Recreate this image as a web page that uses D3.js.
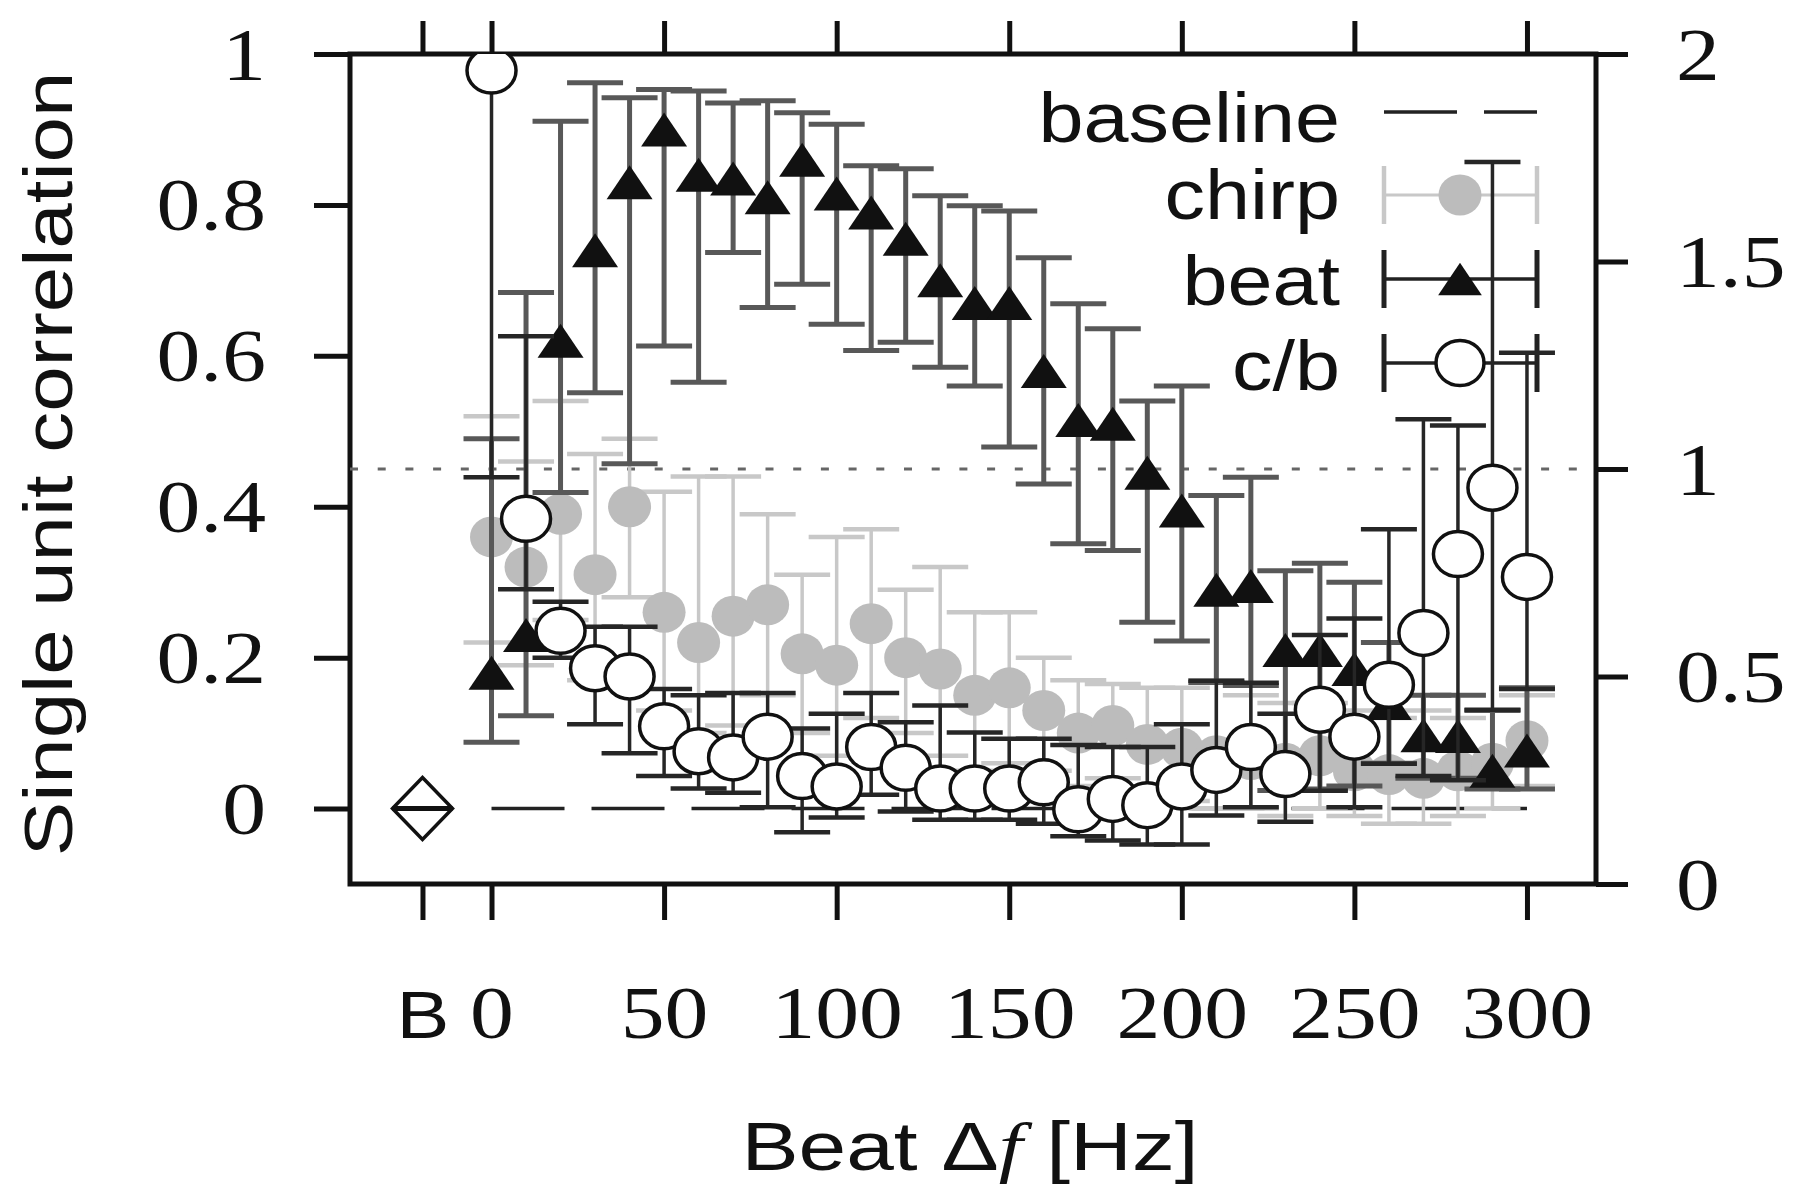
<!DOCTYPE html>
<html><head><meta charset="utf-8">
<script src="https://cdn.jsdelivr.net/npm/d3@7"></script>
<style>html,body{margin:0;padding:0;background:#fff;} svg{display:block;}</style>
</head><body>
<svg id="chart" width="1798" height="1191"></svg>
<script>
// ---------------- data ----------------
const beatDf = [0,10,20,30,40,50,60,70,80,90,100,110,120,130,140,150,160,170,180,190,200,210,220,230,240,250,260,270,280,290,300];

const chirpMean = [0.36,0.32,0.39,0.31,0.40,0.26,0.22,0.255,0.27,0.205,0.19,0.245,0.20,0.185,0.15,0.16,0.13,0.10,0.11,0.085,0.08,0.07,0.065,0.06,0.07,0.05,0.045,0.04,0.05,0.06,0.09];
const chirpHi   = [0.52,0.46,0.54,0.47,0.49,0.42,0.44,0.44,0.39,0.31,0.36,0.37,0.29,0.32,0.26,0.26,0.20,0.17,0.165,0.16,0.16,0.17,0.15,0.14,0.14,0.13,0.12,0.13,0.12,0.13,0.15];
const chirpLo   = [0.22,0.19,0.25,0.17,0.28,0.13,0.10,0.11,0.15,0.10,0.07,0.12,0.10,0.07,0.05,0.06,0.05,0.03,0.04,0.02,0.01,0.00,0.00,-0.01,0.00,-0.01,-0.02,-0.02,-0.01,0.00,0.03];

const beatMean = [0.18,0.23,0.62,0.74,0.83,0.90,0.84,0.835,0.81,0.86,0.815,0.79,0.755,0.70,0.67,0.67,0.58,0.515,0.51,0.445,0.395,0.29,0.295,0.21,0.21,0.185,0.14,0.097,0.096,0.05,0.077];
const beatHi   = [0.49,0.684,0.911,0.962,0.942,0.953,0.951,0.935,0.938,0.922,0.907,0.852,0.848,0.812,0.799,0.792,0.73,0.669,0.636,0.54,0.56,0.415,0.439,0.315,0.325,0.30,0.22,0.15,0.15,0.13,0.16];
const beatLo   = [0.088,0.123,0.419,0.551,0.457,0.613,0.565,0.737,0.664,0.695,0.642,0.607,0.618,0.585,0.56,0.479,0.43,0.351,0.342,0.247,0.222,0.167,0.163,0.024,0.026,0.03,0.06,0.04,0.04,0.026,0.026];

// chirp/beat ratio, right axis
const cbMean = [1.96,0.88,0.61,0.52,0.50,0.38,0.32,0.305,0.355,0.26,0.235,0.33,0.28,0.23,0.23,0.23,0.245,0.18,0.205,0.19,0.235,0.275,0.33,0.265,0.42,0.355,0.48,0.605,0.795,0.955,0.74];
const cbHi   = [2.3,1.32,0.68,0.62,0.62,0.47,0.455,0.46,0.46,0.375,0.41,0.46,0.39,0.43,0.365,0.35,0.35,0.335,0.33,0.33,0.385,0.49,0.485,0.41,0.60,0.64,0.855,1.12,1.105,1.74,1.28];
const cbLo   = [0.98,0.71,0.545,0.385,0.315,0.26,0.23,0.22,0.185,0.125,0.16,0.215,0.175,0.155,0.155,0.155,0.145,0.115,0.105,0.095,0.095,0.165,0.185,0.15,0.225,0.185,0.29,0.26,0.25,0.42,0.47];

const baselinePos = -20;
const baselineVal = 0;

const xTickValues = [-20,0,50,100,150,200,250,300];
const xTickLabels = ["B","0","50","100","150","200","250","300"];
const yLeftTicks  = [0,0.2,0.4,0.6,0.8,1];
const yLeftLabels = ["0","0.2","0.4","0.6","0.8","1"];
const yRightTicks  = [0,0.5,1,1.5,2];
const yRightLabels = ["0","0.5","1","1.5","2"];
const legendNames = ["baseline","chirp","beat","c/b"];
const yTitle = "Single unit correlation";

// ---------------- layout ----------------
const L = 350, R = 1596, T = 54, B = 884;
const svg = d3.select("#chart");
const x  = d3.scaleLinear().domain([-41, 320]).range([L, R]);
const yL = d3.scaleLinear().domain([-0.1, 1]).range([B, T]);
const yR = d3.scaleLinear().domain([0, 2]).range([B, T]);

const SERIF = "'Liberation Serif','Times New Roman',serif";
const SANS  = "'Liberation Sans',Arial,Helvetica,sans-serif";
const INK = "#111";

svg.append("defs").append("clipPath").attr("id","plotclip")
  .append("rect").attr("x",L).attr("y",T).attr("width",R-L).attr("height",B-T);

function triPath(cx,cy,s){
  const w=23*s, h=17*s;
  return `M${cx},${cy-h}L${cx+w},${cy+h}L${cx-w},${cy+h}Z`;
}

// ---------------- axes ----------------
function styleAxis(g){
  g.select(".domain").remove();
  g.selectAll(".tick line").attr("stroke",INK).attr("stroke-width",5);
}
const gL = svg.append("g").attr("transform",`translate(${L},0)`)
  .call(d3.axisLeft(yL).tickValues(yLeftTicks).tickSize(36).tickFormat((d,i)=>yLeftLabels[i]));
styleAxis(gL);
gL.selectAll("text").attr("x",null).attr("dy",null)
  .attr("transform","translate(-84,25) scale(1.2,1)")
  .style("font-family",SERIF).style("font-size","73px").attr("fill",INK);

const gR = svg.append("g").attr("transform",`translate(${R},0)`)
  .call(d3.axisRight(yR).tickValues(yRightTicks).tickSize(32).tickFormat((d,i)=>yRightLabels[i]));
styleAxis(gR);
gR.selectAll("text").attr("x",null).attr("dy",null)
  .attr("transform","translate(80,25) scale(1.2,1)")
  .style("font-family",SERIF).style("font-size","73px").attr("fill",INK);

const gB = svg.append("g").attr("transform",`translate(0,${B})`)
  .call(d3.axisBottom(x).tickValues(xTickValues).tickSize(36).tickFormat((d,i)=>xTickLabels[i]));
styleAxis(gB);
gB.selectAll("text").attr("y",null).attr("dy",null)
  .attr("transform","translate(0,154) scale(1.2,1)")
  .style("font-family",(d)=> d===baselinePos ? SANS : SERIF)
  .style("font-size",(d)=> d===baselinePos ? "66px" : "73px").attr("fill",INK);

const gT = svg.append("g").attr("transform",`translate(0,${T})`)
  .call(d3.axisTop(x).tickValues(xTickValues).tickSize(33).tickFormat(""));
styleAxis(gT);

// frame
svg.append("rect").attr("x",L).attr("y",T).attr("width",R-L).attr("height",B-T)
  .attr("fill","none").attr("stroke",INK).attr("stroke-width",5);

// axis titles
svg.append("text").attr("transform",`translate(72,${(T+B)/2 - 5}) rotate(-90) scale(1.2,1)`)
  .attr("text-anchor","middle").style("font-family",SANS).style("font-size","68px").attr("fill",INK)
  .text(yTitle);

const xt = svg.append("text").attr("transform",`translate(970,1170) scale(1.26,1)`)
  .attr("text-anchor","middle").style("font-family",SANS).style("font-size","68px").attr("fill",INK);
xt.append("tspan").text("Beat ");
xt.append("tspan").text("Δ");
xt.append("tspan").style("font-family",SERIF).style("font-style","italic").text("f");
xt.append("tspan").text(" [Hz]");

// ---------------- reference lines ----------------
svg.append("line").attr("x1",L).attr("x2",R).attr("y1",yR(1)).attr("y2",yR(1))
  .attr("stroke","#666").attr("stroke-width",3).attr("stroke-dasharray","8,19.7");

svg.append("line").attr("x1",x(beatDf[0])).attr("x2",x(beatDf[beatDf.length-1]))
  .attr("y1",yL(baselineVal)).attr("y2",yL(baselineVal))
  .attr("stroke","#222").attr("stroke-width",3.5).attr("stroke-dasharray","73,27");

// baseline diamond
const bx = x(baselinePos), by = yL(baselineVal);
svg.append("path").attr("d",`M${bx},${by-31}L${bx+30},${by}L${bx},${by+31}L${bx-30},${by}Z`)
  .attr("fill","#fff").attr("stroke",INK).attr("stroke-width",3.5);
svg.append("line").attr("x1",bx-30).attr("x2",bx+30).attr("y1",by).attr("y2",by)
  .attr("stroke",INK).attr("stroke-width",5);

// ---------------- legend ----------------
const legX0 = 1384, legX1 = 1537, legXc = 1460, legTextX = 1340;
const legRowY = [112, 195, 279, 363];
const legTextDy = [30, 24, 26, 27];
const lg = svg.append("g");
legendNames.forEach((name,i)=>{
  const yy = legRowY[i];
  lg.append("text").attr("transform",`translate(${legTextX},${yy+legTextDy[i]}) scale(1.14,1)`)
    .attr("text-anchor","end").style("font-family",SANS).style("font-size","71px").attr("fill",INK)
    .text(name);
});
lg.append("line").attr("x1",legX0).attr("x2",legX1).attr("y1",legRowY[0]).attr("y2",legRowY[0])
  .attr("stroke","#222").attr("stroke-width",3.5).attr("stroke-dasharray","73,27");
function legendBar(yy,color,w){
  lg.append("line").attr("x1",legX0).attr("x2",legX1).attr("y1",yy).attr("y2",yy).attr("stroke",color).attr("stroke-width",w);
  [legX0,legX1].forEach(xx=> lg.append("line").attr("x1",xx).attr("x2",xx).attr("y1",yy-29).attr("y2",yy+29).attr("stroke",color).attr("stroke-width",w+1.5));
}
legendBar(legRowY[1],"#c8c8c8",3);
lg.append("ellipse").attr("cx",legXc).attr("cy",legRowY[1]).attr("rx",21.5).attr("ry",20.5).attr("fill","#bcbcbc");
legendBar(legRowY[2],"#222",3.5);
lg.append("path").attr("d",triPath(legXc,legRowY[2],0.95)).attr("fill",INK);
legendBar(legRowY[3],"#222",3.5);
lg.append("ellipse").attr("cx",legXc).attr("cy",legRowY[3]).attr("rx",24).attr("ry",22.5)
  .attr("fill","#fff").attr("stroke",INK).attr("stroke-width",3.5);

// ---------------- data ----------------
const plot = svg.append("g").attr("clip-path","url(#plotclip)");

function errorBars(xs, lo, hi, ys, color, w, capW){
  const g = plot.append("g");
  xs.forEach((d,i)=>{
    const cx = x(d), y0 = ys(lo[i]), y1 = ys(hi[i]);
    g.append("line").attr("x1",cx).attr("x2",cx).attr("y1",y0).attr("y2",y1)
      .attr("stroke",color).attr("stroke-width",w);
    [y0,y1].forEach(yy=> g.append("line").attr("x1",cx-28).attr("x2",cx+28).attr("y1",yy).attr("y2",yy)
      .attr("stroke",color).attr("stroke-width",capW));
  });
}

// chirp
errorBars(beatDf, chirpLo, chirpHi, yL, "#c8c8c8", 3.5, 4.5);
plot.append("g").selectAll("ellipse").data(beatDf).join("ellipse")
  .attr("cx",d=>x(d)).attr("cy",(d,i)=>yL(chirpMean[i])).attr("rx",21.5).attr("ry",20.5)
  .attr("fill","#bcbcbc");

// beat
errorBars(beatDf, beatLo, beatHi, yL, "#585858", 5, 5);
plot.append("g").selectAll("path").data(beatDf).join("path")
  .attr("d",(d,i)=>triPath(x(d), yL(beatMean[i]), 1)).attr("fill",INK);

// c/b
errorBars(beatDf, cbLo, cbHi, yR, "#262626", 3.5, 4.5);
plot.append("g").selectAll("ellipse").data(beatDf).join("ellipse")
  .attr("cx",d=>x(d)).attr("cy",(d,i)=>yR(cbMean[i])).attr("rx",24.5).attr("ry",22.5)
  .attr("fill","#fff").attr("stroke",INK).attr("stroke-width",3.5);
</script>
</body></html>
